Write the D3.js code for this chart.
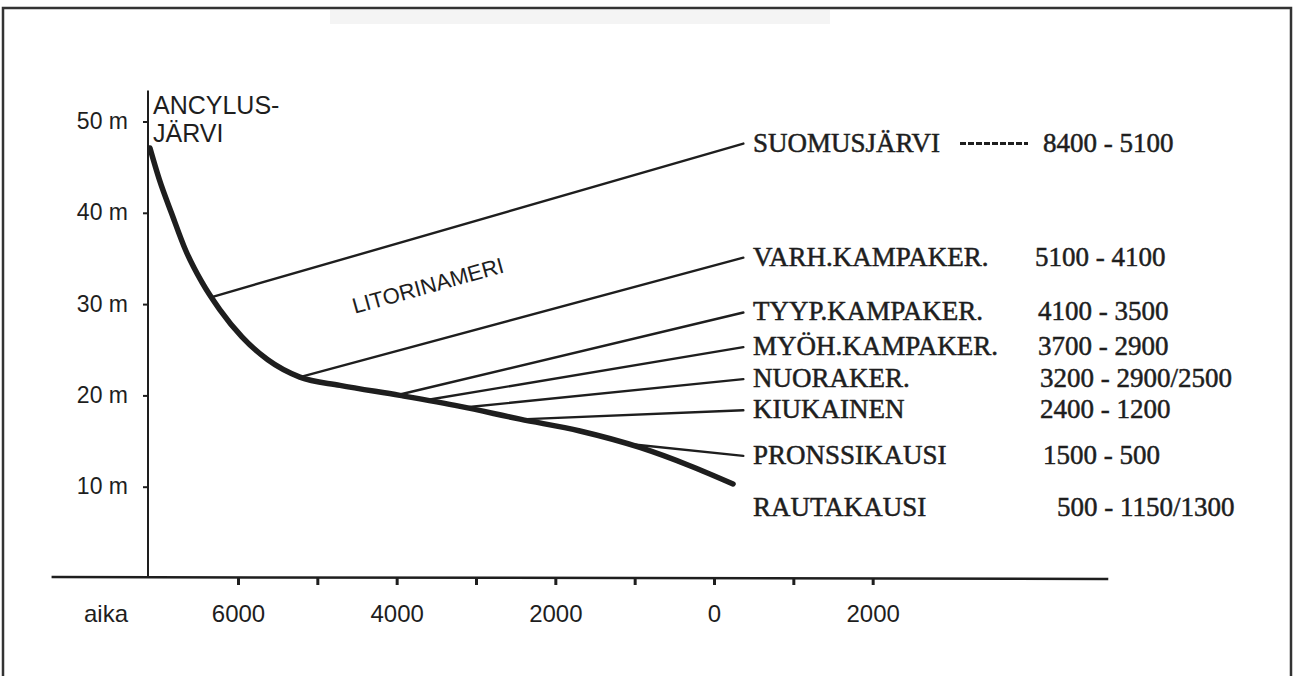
<!DOCTYPE html>
<html>
<head>
<meta charset="utf-8">
<script src="https://cdn.jsdelivr.net/npm/d3@7"></script>
<style>
  body { margin: 0; background: #fff; }
</style>
</head>
<body>
<script>
// shoreline curve: years BC (negative = AD), sea level in metres
const shoreYears  = [7110, 6990, 6835, 6660, 6455, 6230, 5950, 5625, 5220, 4715, 3960, 3200, 2445, 1690, 935, 305, -240]
const shoreLevels = [47.1, 43.6, 39.9, 35.9, 32.4, 29.4, 26.4, 23.9, 22.0, 21.1, 20.0, 18.8, 17.4, 16.1, 14.3, 12.3, 10.3]

// periods listed at right
const periods = ["SUOMUSJÄRVI", "VARH.KAMPAKER.", "TYYP.KAMPAKER.", "MYÖH.KAMPAKER.",
                 "NUORAKER.", "KIUKAINEN", "PRONSSIKAUSI", "RAUTAKAUSI"]
const periodRanges = ["8400 - 5100", "5100 - 4100", "4100 - 3500", "3700 - 2900",
                      "3200 - 2900/2500", "2400 - 1200", "1500 - 500", "500 - 1150/1300"]
// where each branch leaves the curve, and level of its label
const branchStartYear  = [6320, 5220, 3960, 3620, 3120, 2360, 1100, null]
const branchStartLevel = [30.8, 22.0, 20.1, 19.5, 18.7, 17.4, 14.7, null]
const labelLevel       = [47.8, 35.3, 29.3, 25.5, 22.0, 18.6, 13.6, 7.9]

const yTicks = [10, 20, 30, 40, 50]
const xTicks = [6000, 5000, 4000, 3000, 2000, 1000, 0, -1000, -2000]
const xTickLabels = {"6000": "6000", "4000": "4000", "2000": "2000", "0": "0", "-2000": "2000"}

const W = 1294, H = 676
const ink = "#1e1e1e"
const sans = "'Liberation Sans', Arial, sans-serif"
const serif = "'Liberation Serif', 'DejaVu Serif', serif"

let svg = d3.select("body").append("svg")
    .attr("width", W)
    .attr("height", H)
    .style("background-color", "#fff")

let x = d3.scaleLinear().domain([6000, 0]).range([238, 714])
let y = d3.scaleLinear().domain([0, 50]).range([578, 121.5])

// page frame (scanned border)
svg.append("rect")
    .attr("x", 330).attr("y", 10).attr("width", 500).attr("height", 14)
    .attr("fill", "#f4f4f4")
svg.append("path")
    .attr("d", `M3,${H} L3,8 L1291,8 L1291,${H}`)
    .attr("fill", "none")
    .attr("stroke", "#333")
    .attr("stroke-width", 2.5)

// y axis
svg.append("line")
    .attr("x1", 148).attr("x2", 148)
    .attr("y1", y(53.4)).attr("y2", y(0))
    .attr("stroke", ink).attr("stroke-width", 2)

let yAxis = svg.append("g")
    .attr("transform", "translate(148,0)")
    .call(d3.axisLeft(y).tickValues(yTicks).tickSize(5).tickPadding(15).tickFormat(d => d + " m"))
yAxis.select(".domain").remove()
yAxis.selectAll("line").attr("stroke", ink).attr("stroke-width", 2)
yAxis.selectAll("text")
    .style("font-family", sans)
    .style("font-size", "23px")
    .attr("fill", ink)
    .attr("dy", "0.3em")

// x axis
svg.append("line")
    .attr("x1", x(8350)).attr("x2", x(-4970))
    .attr("y1", y(0) - 1).attr("y2", y(0) + 1)
    .attr("stroke", ink).attr("stroke-width", 2.5)

let xAxis = svg.append("g")
    .attr("transform", `translate(0,${y(0)})`)
    .call(d3.axisBottom(x).tickValues(xTicks).tickSize(7).tickFormat(d => xTickLabels[d] || ""))
xAxis.select(".domain").remove()
xAxis.selectAll("line").attr("stroke", ink).attr("stroke-width", 3)
xAxis.selectAll("text")
    .style("font-family", sans)
    .style("font-size", "24px")
    .attr("fill", ink)
    .attr("y", 44)
    .attr("dy", 0)

svg.append("text")
    .attr("x", 106).attr("y", 622)
    .attr("text-anchor", "middle")
    .style("font-family", sans)
    .style("font-size", "24px")
    .attr("fill", ink)
    .text("aika")

// ANCYLUS-JÄRVI
svg.append("text")
    .attr("x", 153).attr("y", 114)
    .style("font-family", sans)
    .style("font-size", "25px")
    .attr("fill", ink)
    .text("ANCYLUS-")
svg.append("text")
    .attr("x", 153).attr("y", 142)
    .style("font-family", sans)
    .style("font-size", "25px")
    .attr("fill", ink)
    .text("JÄRVI")

// branches from curve to period labels
const endYear = -370
periods.forEach((p, i) => {
    if (branchStartYear[i] === null) return
    svg.append("line")
        .attr("x1", x(branchStartYear[i])).attr("y1", y(branchStartLevel[i]))
        .attr("x2", x(endYear)).attr("y2", y(labelLevel[i]) + 2)
        .attr("stroke", ink)
        .attr("stroke-width", 2.4)
        .attr("stroke-linecap", "round")
})

// shoreline curve
let shore = shoreYears.map((d, i) => [d, shoreLevels[i]])
svg.append("path")
    .datum(shore)
    .attr("d", d3.line().x(d => x(d[0])).y(d => y(d[1])).curve(d3.curveMonotoneX))
    .attr("fill", "none")
    .attr("stroke", ink)
    .attr("stroke-width", 5.5)
    .attr("stroke-linecap", "round")

// LITORINAMERI
svg.append("text")
    .attr("transform", "translate(430,293) rotate(-15.5)")
    .attr("text-anchor", "middle")
    .style("font-family", sans)
    .style("font-size", "22px")
    .attr("fill", ink)
    .text("LITORINAMERI")

// period labels and dates
const rangeX = [1043, 1035, 1038, 1038, 1040, 1040, 1043, 1057]
periods.forEach((p, i) => {
    let base = y(labelLevel[i]) + 10
    svg.append("text")
        .attr("x", 753).attr("y", base)
        .style("font-family", serif)
        .style("font-size", "27px")
        .attr("fill", ink)
        .attr("stroke", ink).attr("stroke-width", 0.5)
        .text(p)
    svg.append("text")
        .attr("x", rangeX[i]).attr("y", base)
        .style("font-family", serif)
        .style("font-size", "27px")
        .attr("fill", ink)
        .attr("stroke", ink).attr("stroke-width", 0.5)
        .text(periodRanges[i])
})

// dotted leader after SUOMUSJÄRVI
svg.append("line")
    .attr("x1", 960).attr("x2", 1028)
    .attr("y1", y(labelLevel[0]) + 2).attr("y2", y(labelLevel[0]) + 2)
    .attr("stroke", ink)
    .attr("stroke-width", 3)
    .attr("stroke-dasharray", "6,2")
</script>
</body>
</html>
